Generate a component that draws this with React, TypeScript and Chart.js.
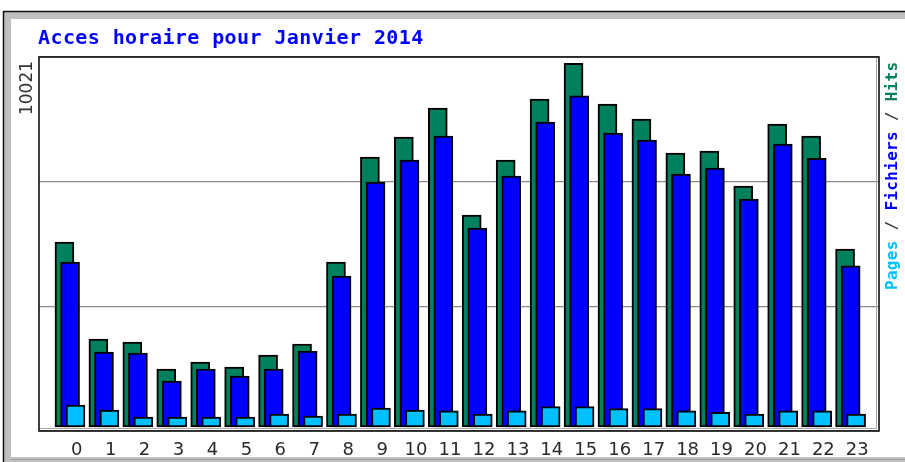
import React, { useEffect, useRef } from "react";
import { Chart, registerables } from "chart.js";

Chart.register(...registerables);

// ---- data ----
const HOURS: number[] = [0, 1, 2, 3, 4, 5, 6, 7, 8, 9, 10, 11, 12, 13, 14, 15, 16, 17, 18, 19, 20, 21, 22, 23];
const HITS: number[] = [5097, 2425, 2342, 1598, 1791, 1653, 1984, 2287, 4546, 7439, 7990, 8789, 5841, 7357, 9037, 10021, 8900, 8486, 7550, 7605, 6640, 8349, 8018, 4904];
const FILES: number[] = [4546, 2066, 2039, 1267, 1598, 1405, 1598, 2094, 4161, 6750, 7357, 8018, 5483, 6916, 8404, 9128, 8101, 7908, 6971, 7136, 6282, 7797, 7403, 4444];
const PAGES: number[] = [606, 468, 276, 276, 276, 276, 358, 303, 358, 523, 468, 449, 358, 449, 560, 560, 505, 505, 449, 404, 358, 449, 449, 358];
const MAX_LABEL = "10021";
const TITLE = "Acces horaire pour Janvier 2014";
const LEGEND_PARTS: { text: string; color: string }[] = [
  { text: "Pages", color: "#00c0ff" },
  { text: " / ", color: "#3a3a3a" },
  { text: "Fichiers", color: "#0000ff" },
  { text: " / ", color: "#3a3a3a" },
  { text: "Hits", color: "#00805c" },
];

// ---- styles / layout ----
const HIT_COLOR = "#00805c";
const FILE_COLOR = "#0000ff";
const PAGE_COLOR = "#00c0ff";
const SHIFT_HITS = -0.36;
const SHIFT_FILES = -0.195;
const SHIFT_PAGES = -0.035;
const X_MIN = -1.11;
const X_MAX = 23.64;
const Y_MIN = -110;
const Y_MAX = 10195;

const framePlugin = {
  id: "frame",
  beforeDraw(chart: any) {
    const { ctx, width, height } = chart;
    ctx.save();
    ctx.fillStyle = "#ffffff";
    ctx.fillRect(0, 0, width, height);
    // gray bevel band
    ctx.fillStyle = "#c0c0c0";
    ctx.fillRect(4, 12, width, height);
    ctx.fillStyle = "#ffffff";
    ctx.fillRect(11, 19, width, 457 - 19);
    // outer dark line
    ctx.strokeStyle = "#111";
    ctx.lineWidth = 1.5;
    ctx.beginPath();
    ctx.moveTo(3.5, height + 2);
    ctx.lineTo(3.5, 11.5);
    ctx.lineTo(width + 2, 11.5);
    ctx.stroke();
    ctx.strokeStyle = "#a0a0a0";
    ctx.lineWidth = 1;
    ctx.beginPath();
    ctx.moveTo(11, 459.5);
    ctx.lineTo(width, 459.5);
    ctx.stroke();
    ctx.restore();
  },
  afterDraw(chart: any) {
    const { ctx, chartArea } = chart;
    const { left, top, right, bottom } = chartArea;
    ctx.save();
    // plot frame
    ctx.strokeStyle = "#a8a8a8";
    ctx.lineWidth = 1;
    ctx.beginPath();
    ctx.moveTo(left, bottom - 2.5);
    ctx.lineTo(right - 2.5, bottom - 2.5);
    ctx.lineTo(right - 2.5, top);
    ctx.stroke();
    ctx.strokeStyle = "#111";
    ctx.lineWidth = 1.6;
    ctx.strokeRect(left, top, right - left, bottom - top);
    // title
    ctx.fillStyle = "#0000ff";
    ctx.font = 'bold 20px "DejaVu Sans Mono"';
    (ctx as any).letterSpacing = "0.4px";
    ctx.textBaseline = "middle";
    ctx.textAlign = "left";
    ctx.fillText(TITLE, 38, 38.5);
    (ctx as any).letterSpacing = "0px";
    // max label on the left
    ctx.save();
    ctx.translate(28, 88);
    ctx.rotate(-Math.PI / 2);
    ctx.fillStyle = "#333";
    ctx.font = '17px "DejaVu Sans"';
    ctx.textAlign = "center";
    ctx.textBaseline = "middle";
    ctx.fillText(MAX_LABEL, 0, 0);
    ctx.restore();
    // legend on the right
    ctx.save();
    ctx.translate(893, 290);
    ctx.rotate(-Math.PI / 2);
    ctx.font = 'bold 16px "DejaVu Sans Mono"';
    (ctx as any).letterSpacing = "0.3px";
    ctx.textAlign = "left";
    ctx.textBaseline = "middle";
    let x = 0;
    for (const p of LEGEND_PARTS) {
      ctx.fillStyle = p.color;
      ctx.fillText(p.text, x, 0);
      x += ctx.measureText(p.text).width;
    }
    ctx.restore();
    ctx.restore();
  },
};

export default function App() {
  const ref = useRef<HTMLCanvasElement | null>(null);
  useEffect(() => {
    if (!ref.current) return;
    const mk = (vals: number[], shift: number) => vals.map((v, i) => ({ x: HOURS[i] + shift, y: v }));
    const common = {
      borderColor: "#000",
      borderWidth: 2,
      borderSkipped: false,
      barThickness: 19,
      grouped: false,
    };
    const chart = new Chart(ref.current, {
      type: "bar",
      data: {
        datasets: [
          { label: "Hits", data: mk(HITS, SHIFT_HITS), backgroundColor: HIT_COLOR, ...common, order: 3 },
          { label: "Fichiers", data: mk(FILES, SHIFT_FILES), backgroundColor: FILE_COLOR, ...common, order: 2 },
          { label: "Pages", data: mk(PAGES, SHIFT_PAGES), backgroundColor: PAGE_COLOR, ...common, order: 1 },
        ] as any,
      },
      options: {
        animation: false,
        responsive: false,
        layout: { padding: { left: 39, top: 57, right: 26, bottom: 0 } },
        plugins: { legend: { display: false }, title: { display: false }, tooltip: { enabled: false } },
        scales: {
          x: {
            type: "linear",
            offset: false,
            min: X_MIN,
            max: X_MAX,
            afterBuildTicks: (s: any) => {
              s.ticks = HOURS.map((h) => ({ value: h }));
            },
            afterFit: (s: any) => {
              s.height = 31;
            },
            ticks: {
              autoSkip: false,
              maxRotation: 0,
              padding: 9,
              color: "#2a2a2a",
              font: { family: "DejaVu Sans", size: 18 },
              callback: (v: any) => String(v),
            },
            grid: { display: false, drawTicks: false },
            border: { display: false },
          },
          y: {
            type: "linear",
            min: Y_MIN,
            max: Y_MAX,
            afterBuildTicks: (s: any) => {
              const r = Y_MAX - Y_MIN;
              s.ticks = [0, 1, 2, 3].map((k) => ({ value: Y_MIN + (r * k) / 3 }));
            },
            ticks: { display: false },
            grid: { color: "#8a8a8a", lineWidth: 1.2, drawTicks: false },
            border: { display: false },
          },
        },
      } as any,
      plugins: [framePlugin],
    });
    return () => chart.destroy();
  }, []);
  return (
    <div style={{ position: "fixed", left: 0, top: 0, width: 905, height: 462 }}>
      <canvas ref={ref} width={905} height={462} style={{ display: "block" }} />
    </div>
  );
}
